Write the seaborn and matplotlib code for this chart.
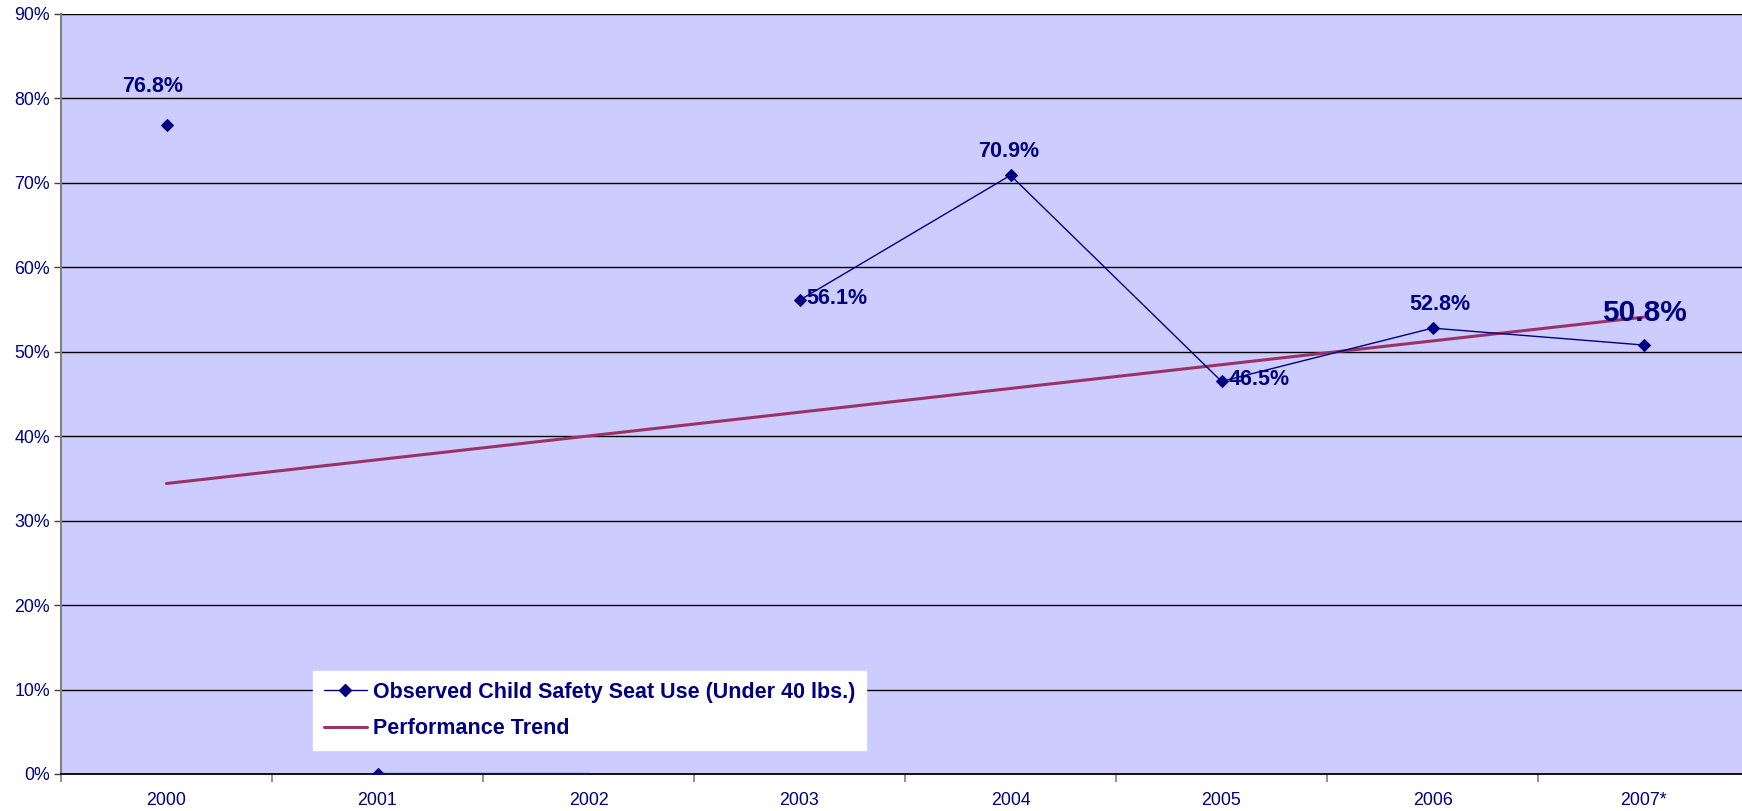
import numpy as np
import pandas as pd
import matplotlib
matplotlib.use("Agg")
import matplotlib.pyplot as plt
from matplotlib.lines import Line2D
from matplotlib.ticker import FixedLocator, FuncFormatter
import seaborn as sns

# ---- data ----
years = ["2000", "2001", "2002", "2003", "2004", "2005", "2006", "2007*"]
seat_use = [76.8, 0.0, np.nan, 56.1, 70.9, 46.5, 52.8, 50.8]
seat_segment = [0, 1, -1, 2, 2, 2, 2, 2]          # connected runs of the series
zero_run_years = ["2001", "2002"]
zero_run_values = [0.0, 0.0]
trend_years = ["2000", "2007*"]
trend_values = [34.4, 54.1]
series_label = "Observed Child Safety Seat Use (Under 40 lbs.)"
trend_label = "Performance Trend"
y_ticks = [0, 10, 20, 30, 40, 50, 60, 70, 80, 90]

NAVY = "#000080"
PLUM = "#993366"
BG = "#CCCCFF"

sns.set_theme(style="white")
plt.rcParams["font.family"] = ["Liberation Sans", "DejaVu Sans"]

pos = {y: i for i, y in enumerate(years)}
df = pd.DataFrame({"x": [pos[y] for y in years], "v": seat_use, "seg": seat_segment}).dropna()
df_zero = pd.DataFrame({"x": [pos[y] for y in zero_run_years], "v": zero_run_values})
df_trend = pd.DataFrame({"x": [pos[y] for y in trend_years], "v": trend_values})

fig = plt.figure(figsize=(17.42, 8.11), dpi=100)
ax = fig.add_axes([61 / 1742, 1 - 774 / 811, 1 - 61 / 1742, (774 - 14) / 811])
ax.set_facecolor(BG)

sns.lineplot(data=df_trend, x="x", y="v", ax=ax, color=PLUM, linewidth=2.2,
             legend=False, zorder=3)
sns.lineplot(data=df_zero, x="x", y="v", ax=ax, color="#0000CC", linewidth=1.6,
             legend=False, zorder=3)
sns.lineplot(data=df, x="x", y="v", units="seg", estimator=None, ax=ax,
             color=NAVY, linewidth=1.0, marker="D", markersize=6.5,
             markeredgecolor=NAVY, markerfacecolor=NAVY, legend=False, zorder=4)

# data labels
label_style = {
    "2000": dict(off=(-10, 28), ha="center", va="center", size=15.5),
    "2003": dict(off=(5, 1), ha="left", va="center", size=15.5),
    "2004": dict(off=(-1, 17), ha="center", va="center", size=15.5),
    "2005": dict(off=(5, 1), ha="left", va="center", size=15.5),
    "2006": dict(off=(5, 17), ha="center", va="center", size=15.5),
    "2007*": dict(off=(1, 23), ha="center", va="center", size=21.5),
}
for yr, val in zip(years, seat_use):
    if yr in label_style and not np.isnan(val):
        st = label_style[yr]
        ax.annotate(f"{val:.1f}%", (pos[yr], val), xytext=st["off"],
                    textcoords="offset points", ha=st["ha"], va=st["va"],
                    fontsize=st["size"], fontweight="bold", color=NAVY, zorder=5)

# axes styling
ax.set_xlim(-0.5, -0.5 + (1742 - 61) / 211)
ax.set_ylim(0, 90)
ax.set_xticks(range(len(years)))
ax.set_xticklabels(years)
ax.xaxis.set_minor_locator(FixedLocator([i + 0.5 for i in range(-1, len(years))]))
ax.tick_params(axis="x", which="major", length=0, pad=13, labelsize=12.8, labelcolor=NAVY)
ax.tick_params(axis="x", which="minor", length=6, width=1.2, color="#808080", direction="out", bottom=True)
ax.set_yticks(y_ticks)
ax.yaxis.set_major_formatter(FuncFormatter(lambda v, p: f"{v:.0f}%"))
ax.tick_params(axis="y", length=5, width=1.0, color="#404040", direction="out", left=True,
               labelsize=12.8, labelcolor=NAVY, pad=3)
ax.set_xlabel("")
ax.set_ylabel("")
ax.grid(False)
for t in y_ticks[1:]:
    ax.axhline(t, color="black", linewidth=1.0, zorder=1)
ax.spines["left"].set_color("#808080")
ax.spines["left"].set_linewidth(1.5)
ax.spines["bottom"].set_color("black")
ax.spines["bottom"].set_linewidth(1.3)
ax.spines["top"].set_visible(False)
ax.spines["right"].set_visible(False)

handles = [
    Line2D([], [], color=NAVY, linewidth=1.0, marker="D", markersize=6.5),
    Line2D([], [], color=PLUM, linewidth=2.2),
]
leg = ax.legend(handles, [series_label, trend_label], loc="lower left",
                bbox_to_anchor=((313 - 61) / 1681, (774 - 750) / 760),
                frameon=True, fancybox=False, framealpha=1, facecolor="white",
                edgecolor="white", borderaxespad=0, handlelength=2.0,
                handletextpad=0.28, labelspacing=0.72, borderpad=0.5,
                prop={"weight": "bold", "size": 15.5})
for txt in leg.get_texts():
    txt.set_color(NAVY)
leg.set_zorder(6)

fig.savefig("out.png", dpi=100, facecolor="white")
